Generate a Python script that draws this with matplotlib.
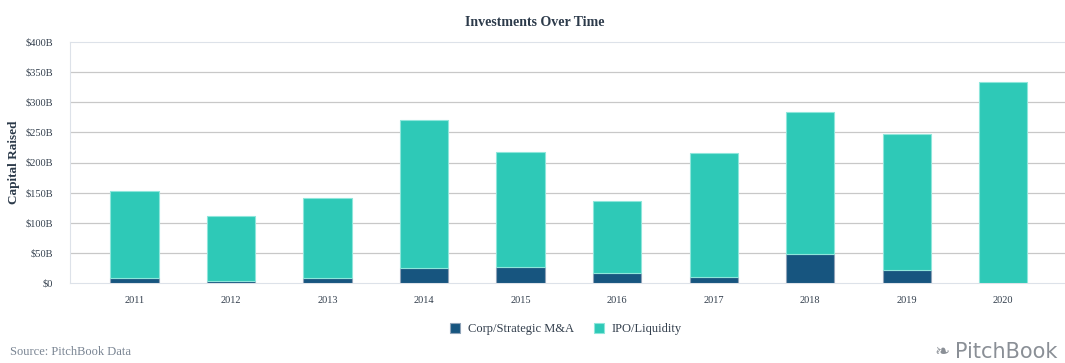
import matplotlib
matplotlib.use("Agg")
import matplotlib.pyplot as plt
import numpy as np

years = ["2011", "2012", "2013", "2014", "2015", "2016", "2017", "2018", "2019", "2020"]
corp_ma = [8, 3, 8, 26, 27.5, 17.5, 10, 48, 21.5, 0]
ipo_total = [152, 112, 142, 270, 218, 137, 215, 284, 247, 333]
ipo = [t - m for t, m in zip(ipo_total, corp_ma)]
yticks = [0, 50, 100, 150, 200, 250, 300, 350, 400]
ytick_labels = ["$0", "$50B", "$100B", "$150B", "$200B", "$250B", "$300B", "$350B", "$400B"]

plt.rcParams['font.family'] = ['Liberation Serif', 'DejaVu Serif']

fig = plt.figure(figsize=(10.65, 3.63), dpi=100)
ax = fig.add_axes([70/1065, 1-283.3/363, 995/1065, (283.3-41.7)/363])

x = np.arange(len(years))
w = 0.50
c_ma = "#17557f"
c_ipo = "#2ec9b7"
ax.bar(x, corp_ma, w, color=c_ma, edgecolor="#8fa3b8", linewidth=0.8, label="Corp/Strategic M&A", zorder=3)
ax.bar(x, ipo, w, bottom=corp_ma, color=c_ipo, edgecolor="#8ee6db", linewidth=0.8, label="IPO/Liquidity", zorder=3)

ax.set_xlim(-0.668, len(years) - 0.36)
ax.set_ylim(0, 400)
ax.set_yticks(yticks)
ax.set_yticklabels(ytick_labels)
ax.set_xticks(x)
ax.set_xticklabels(years)
ax.tick_params(axis='both', length=0, labelsize=7.5, colors="#333f4d")
ax.tick_params(axis='x', pad=9)
ax.tick_params(axis='y', pad=12)
ax.yaxis.grid(True, color="#c8c8c8", linewidth=0.9, zorder=0)
gl = ax.get_ygridlines()
gl[0].set_visible(False)
gl[-1].set_visible(False)
ax.spines["right"].set_visible(False)
for s in ["left", "top", "bottom"]:
    ax.spines[s].set_color("#dde2e9")
    ax.spines[s].set_linestyle((0, (1, 1)))
ax.set_ylabel("Capital Raised", fontsize=9.5, fontweight="bold", color="#2c3a4a", labelpad=4)

fig.text(0.502, 1-22/363, "Investments Over Time", ha="center", va="center",
         fontsize=10, fontweight="bold", color="#2c3a4a")

handles, labels = ax.get_legend_handles_labels()
fig.legend(handles, labels, loc="center", bbox_to_anchor=(566/1065, 1-329/363), ncol=2,
           frameon=False, fontsize=9, handlelength=0.8, handleheight=0.8,
           handletextpad=0.6, columnspacing=1.6, labelcolor="#333f4d")

fig.text(10/1065, 1-352/363, "Source: PitchBook Data", ha="left", va="center",
         fontsize=9, color="#7a8593")
fig.text(1057/1065, 1-352/363, "PitchBook", ha="right", va="center",
         fontsize=15, color="#8a8f96", family=["DejaVu Sans"])
fig.text(950/1065, 1-352/363, "\u2767", ha="right", va="center",
         fontsize=13, color="#8a8f96", family=["DejaVu Sans"])

fig.savefig("out.png", dpi=100)
